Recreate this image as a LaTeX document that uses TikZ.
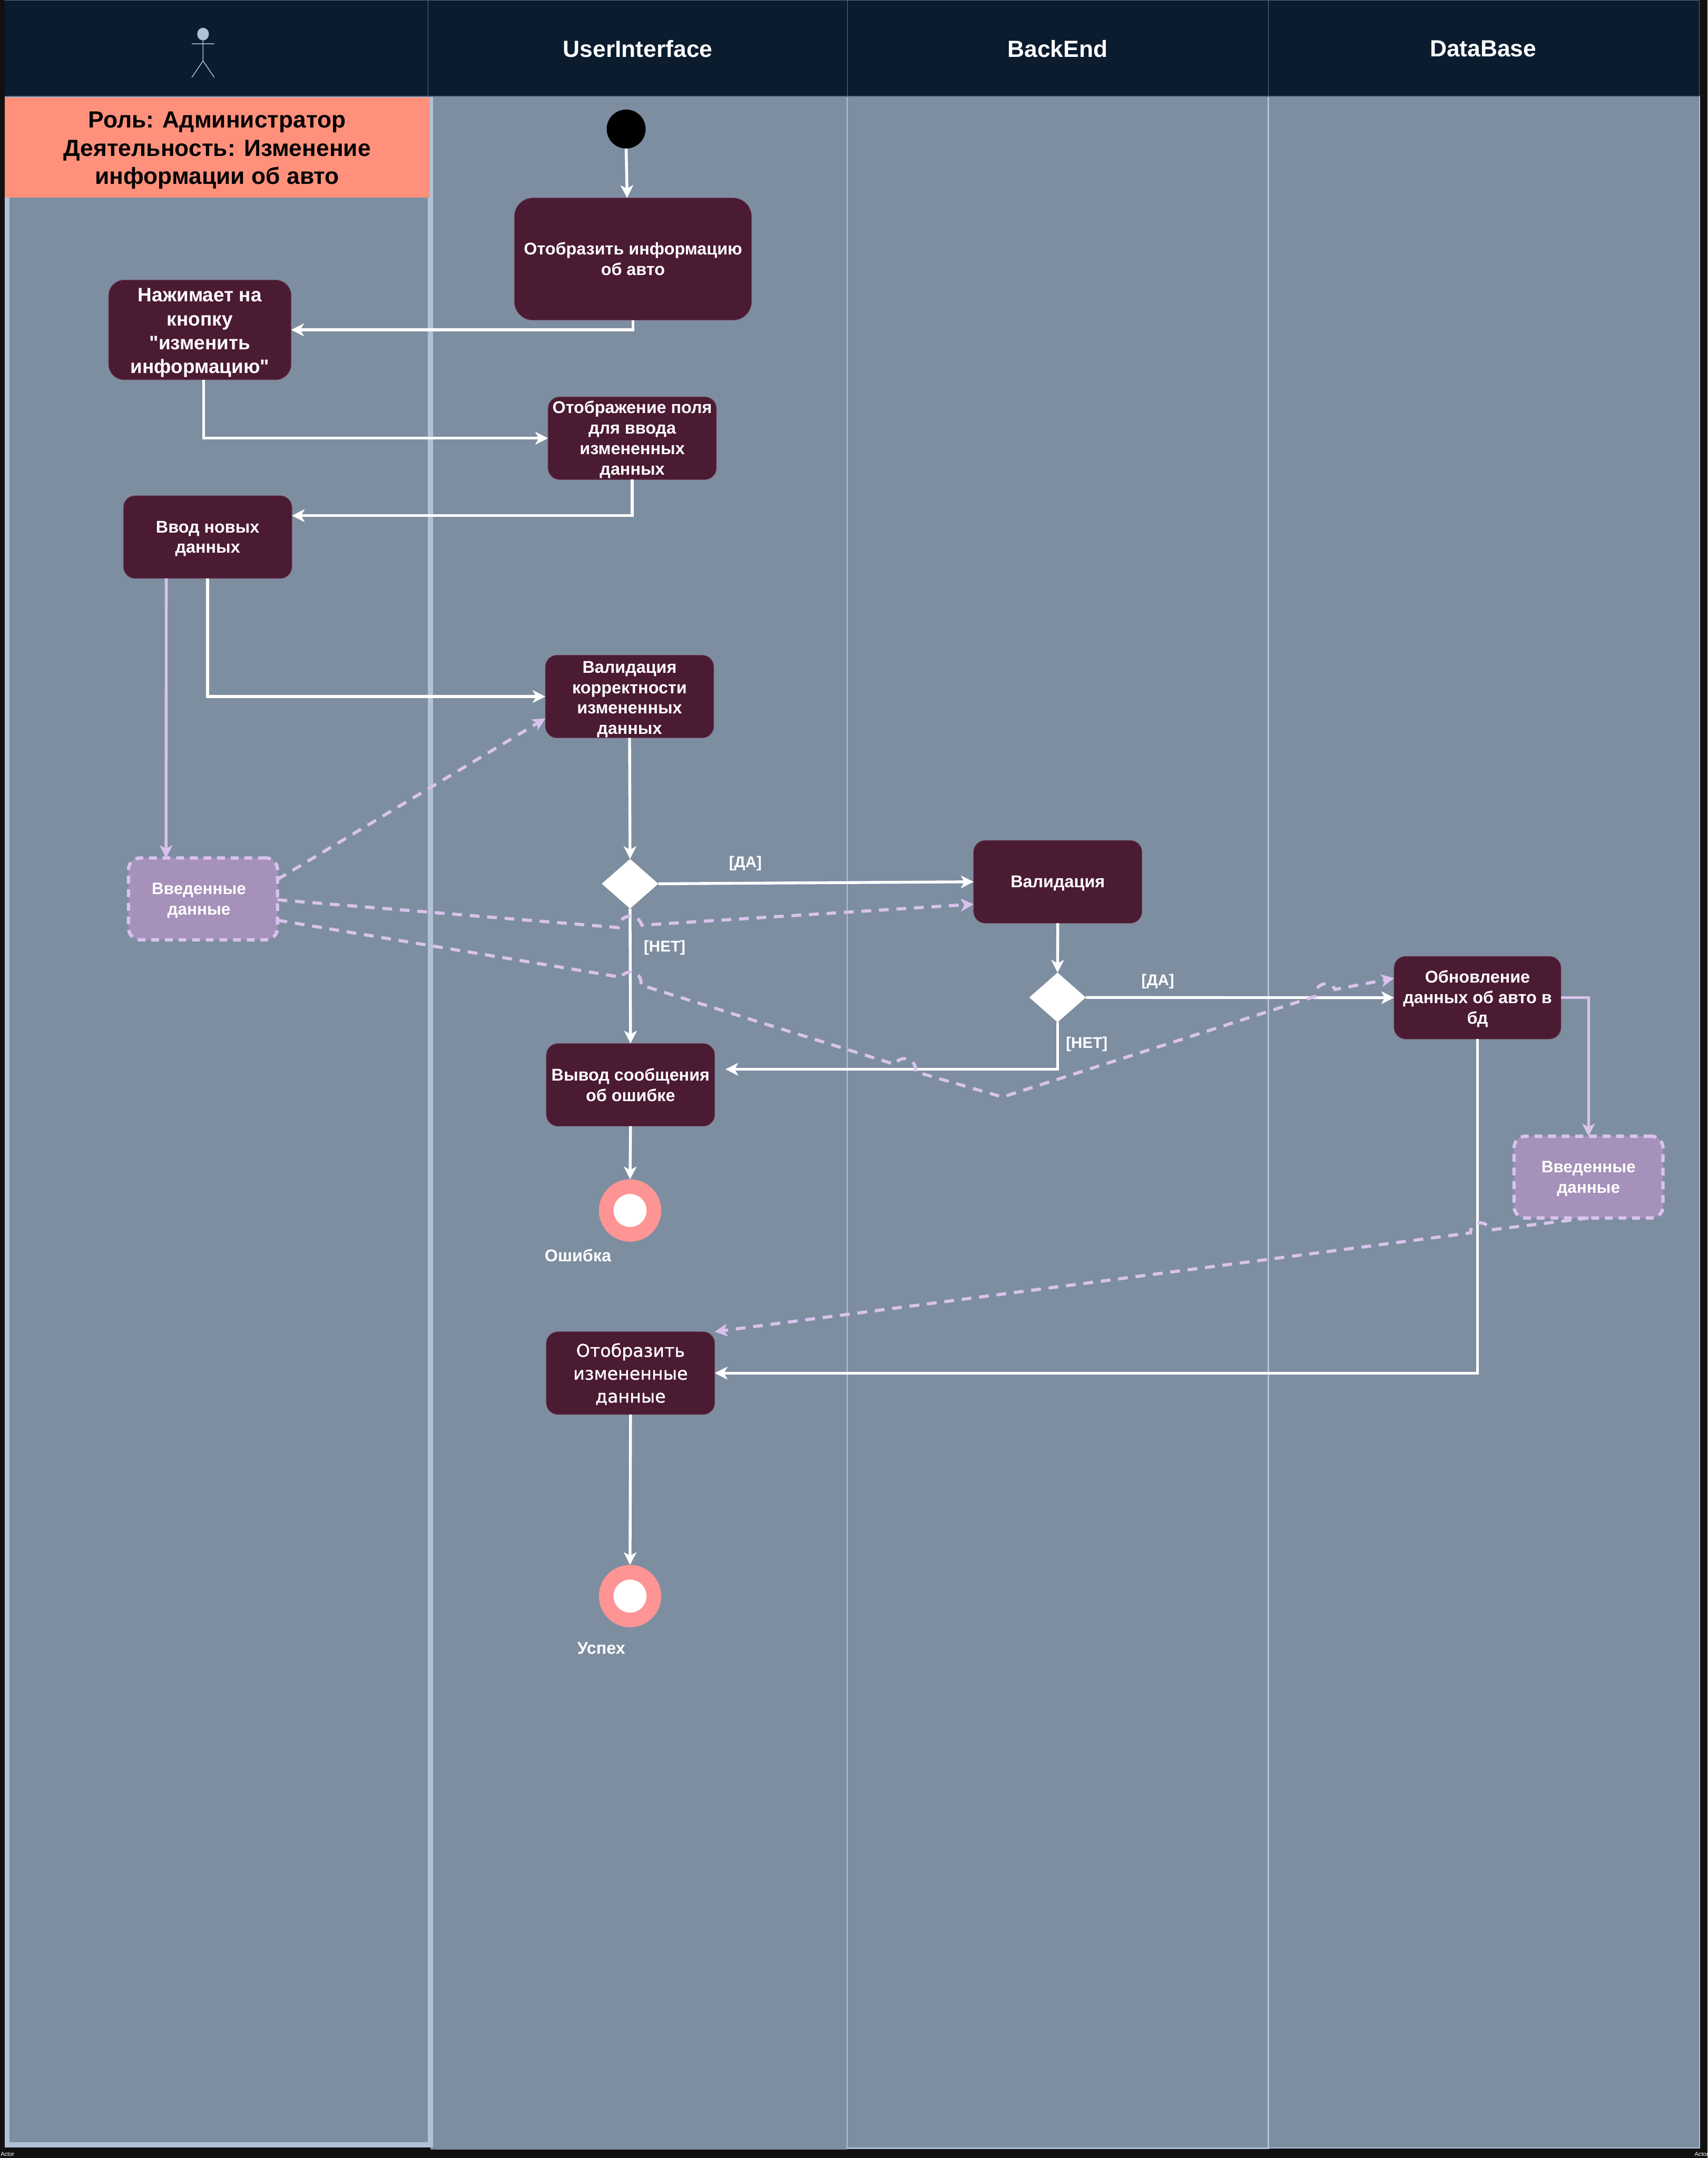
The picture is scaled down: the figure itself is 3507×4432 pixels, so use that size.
\documentclass[tikz,border=0pt]{standalone}
\usepackage{fontspec}
\setmainfont{Liberation Sans}[Ligatures=TeXOff]
\newfontfamily\showfont{DejaVu Sans}[FakeBold=1]
\usetikzlibrary{shapes.geometric,arrows.meta}
\definecolor{pagedark}{HTML}{111111}
\definecolor{headdark}{HTML}{0B1C2F}
\definecolor{panegrey}{HTML}{7E8EA1}
\definecolor{paneline}{HTML}{B0C1D8}
\definecolor{rolesalmon}{HTML}{FF917C}
\definecolor{actwine}{HTML}{4B1A33}
\definecolor{datafill}{HTML}{A591B9}
\definecolor{dataline}{HTML}{D9C3EC}
\definecolor{endsalmon}{HTML}{FF9494}
\newcommand{\headroom}[1]{\rule{0pt}{#1}}
\tikzset{
  tiphead/.style={-{Stealth[length=13pt,width=13pt,inset=3.5pt]}},
  actbox/.style={rounded corners=12pt,fill=actwine,draw=actwine!80!white,line width=.5pt,
    text=white,align=center,inner sep=0pt,outer sep=0pt,minimum width=173pt,minimum height=85pt,
    font=\bfseries\fontsize{17.5}{21}\selectfont},
  databox/.style={rounded corners=12pt,fill=datafill,draw=dataline,line width=3.4pt,dash pattern=on 8pt off 6pt,
    text=white,align=center,inner sep=0pt,outer sep=0pt,minimum width=153pt,minimum height=84pt,
    font=\bfseries\fontsize{17}{21}\selectfont},
  decbox/.style={diamond,fill=white,inner sep=0pt,outer sep=0pt,minimum width=58pt,minimum height=51pt},
  endnode/.style={circle,draw=endsalmon,fill=white,line width=15pt,inner sep=0pt,minimum size=49pt},
  headtext/.style={text=white,font=\bfseries\fontsize{24}{27}\selectfont},
  smalltext/.style={text=white,font=\bfseries\fontsize{16}{19}\selectfont},
  bigsmalltext/.style={text=white,font=\bfseries\fontsize{17.5}{20}\selectfont},
  flow/.style={tiphead,draw=white,line width=2.9pt},
  dataflow/.style={tiphead,draw=dataline,line width=2.9pt},
  datadash/.style={tiphead,draw=dataline,line width=3.2pt,dash pattern=on 10pt off 8pt},
  jump/.style={bend left=80,looseness=1.5},
  backjump/.style={bend right=80,looseness=1.5},
}
\begin{document}
\begin{tikzpicture}[x=.5pt,y=-.5pt]
  \useasboundingbox (0,0) rectangle (3507,4432);
  \fill[pagedark] (0,0) rectangle (3507,4432);
  \fill[panegrey] (884,198) rectangle (1740,4415);
  \fill[panegrey,draw=paneline,line width=1pt] (1740,198) rectangle (3491,4411);
  \draw[paneline,line width=1.5pt] (1740,198) rectangle (2605,4412);
  \fill[panegrey,draw=paneline,line width=5pt] (15,200) rectangle (884,4405);
  \fill[headdark] (10,0) rectangle (3491,198);
  \draw[paneline!50!headdark,line width=.6pt] (10,1) -- (3491,1) (10,198) -- (3491,198)
    (879,0) -- (879,198) (1740,0) -- (1740,198) (2605,0) -- (2605,198) (3490,0) -- (3490,198);
  \fill[rolesalmon] (10,200) rectangle (883,406);
  \fill[paneline] (417,70) ellipse (12 and 13);
  \draw[paneline,line width=.8pt] (417,83) -- (417,125) (394,90) -- (440,90)
    (394,159) -- (417,125) -- (440,159);
  \node[headtext] (uihead) at (1310,100) {UserInterface};
  \node[headtext] (backhead) at (2172,100) {BackEnd};
  \node[headtext] (dbhead) at (3046,100) {DataBase};
  \node[align=center,font=\bfseries\fontsize{24}{29}\selectfont] (role) at (446,309)
    {Роль: Администратор\\Деятельность: Изменение\\информации об авто};

  \node[circle,fill=black,inner sep=0pt,outer sep=0pt,minimum size=40pt] (start) at (1286,265) {};
  \node[actbox,rounded corners=19pt,minimum width=243.5pt,minimum height=125.5pt] (showinfo) at (1300,532)
    {Отобразить информацию\\об авто};
  \node[actbox,rounded corners=16pt,minimum width=187.5pt,minimum height=102.5pt,
    font=\bfseries\fontsize{20}{24.5}\selectfont] (press) at (410.5,677.5)
    {\headroom{20pt}Нажимает на\\кнопку\\"изменить\\информацию"};
  \node[actbox] (field) at (1298.5,900) {\headroom{15.5pt}Отображение поля\\для ввода\\измененных\\данных};
  \node[actbox] (input) at (426.5,1103) {\headroom{15.5pt}Ввод новых\\данных};
  \node[actbox] (check) at (1293,1430.5) {\headroom{18pt}Валидация\\корректности\\измененных\\данных};
  \node[databox] (dataone) at (417,1846) {\headroom{15pt}Введенные\hspace*{8.5pt}\\данные\hspace*{8.5pt}};
  \node[decbox] (decone) at (1294,1815) {};
  \node[actbox] (valid) at (2172.5,1811) {\headroom{15.5pt}Валидация};
  \node[decbox] (dectwo) at (2172,2048.5) {};
  \node[actbox,minimum width=171.5pt] (update) at (3034.5,2049) {\headroom{15.5pt}Обновление\\данных об авто в\\бд};
  \node[databox] (datatwo) at (3262.5,2417.5) {\headroom{15pt}Введенные\\данные};
  \node[actbox] (error) at (1295,2228) {Вывод сообщения\\об ошибке};
  \node[endnode] (endone) at (1294,2486) {};
  \node[actbox,font=\showfont\fontsize{18}{23.5}\selectfont] (show) at (1295,2820)
    {\headroom{16pt}Отобразить\\измененные\\данные};
  \node[endnode] (endtwo) at (1294,3278) {};
  \node[bigsmalltext] (errtext) at (1187,2578) {Ошибка};
  \node[bigsmalltext] (oktext) at (1235,3385) {Успех};
  \node[smalltext] (yesone) at (1531,1773) {[ДА]};
  \node[smalltext] (noone) at (1365,1946) {[НЕТ]};
  \node[smalltext] (yestwo) at (2378,2016) {[ДА]};
  \node[smalltext] (notwo) at (2232,2144) {[НЕТ]};
  \node[text=white,anchor=west,inner sep=0pt,font=\fontsize{6}{7}\selectfont] (actorl) at (1,4424) {Actor};
  \node[text=white,anchor=west,inner sep=0pt,font=\fontsize{6}{7}\selectfont] (actorr) at (3480,4424) {Actor};

  \coordinate (turnone) at (2059,2253);
  \coordinate (ja) at (1270,1905);
  \coordinate (jb) at (1318,1900);
  \coordinate (jc) at (1276,2007);
  \coordinate (jd) at (1316,2023);
  \coordinate (je) at (1838,2186);
  \coordinate (jf) at (1880,2201);
  \coordinate (jg) at (2702,2046);
  \coordinate (jh) at (2742,2032);
  \coordinate (ji) at (3060,2526);
  \coordinate (jj) at (3020,2532);

  \draw[flow] (start.south) -- ([xshift=-6pt]showinfo.north);
  \draw[flow] (showinfo.south) |- (press.east);
  \draw[flow] ([xshift=4pt]press.south) |- (field.west);
  \draw[flow] (field.south) |- ([yshift=22pt]input.east);
  \draw[flow] (input.south) |- (check.west);
  \draw[dataflow] ([xshift=-42.5pt]input.south) -- ([xshift=-38pt]dataone.north);
  \draw[flow] (check.south) -- (decone.north);
  \draw[flow] (decone.east) -- (valid.west);
  \draw[flow] (decone.south) -- (error.north);
  \draw[flow] (valid.south) -- (dectwo.north);
  \draw[flow] (dectwo.east) -- (update.west);
  \draw[flow] (dectwo.south) |- ([xshift=11pt,yshift=16pt]error.east);
  \draw[flow] (error.south) -- (endone.north);
  \draw[dataflow] (update.east) -| (datatwo.north);
  \draw[flow] (update.south) |- (show.east);
  \draw[flow] (show.south) -- (endtwo.north);
  \draw[datadash] ([yshift=20pt]dataone.east) -- ([yshift=-22.5pt]check.west);
  \draw[datadash] ([yshift=-1pt]dataone.east) -- (ja) to[jump] (jb) -- ([yshift=-23pt]valid.west);
  \draw[datadash] ([yshift=-22pt]dataone.east) -- (jc) to[jump] (jd) -- (je) to[jump] (jf)
    -- (turnone) -- (jg) to[jump] (jh) -- ([yshift=20pt]update.west);
  \draw[datadash] (datatwo.south) -- (ji) to[backjump] (jj) -- ([yshift=42.5pt]show.east);
\end{tikzpicture}
\end{document}
